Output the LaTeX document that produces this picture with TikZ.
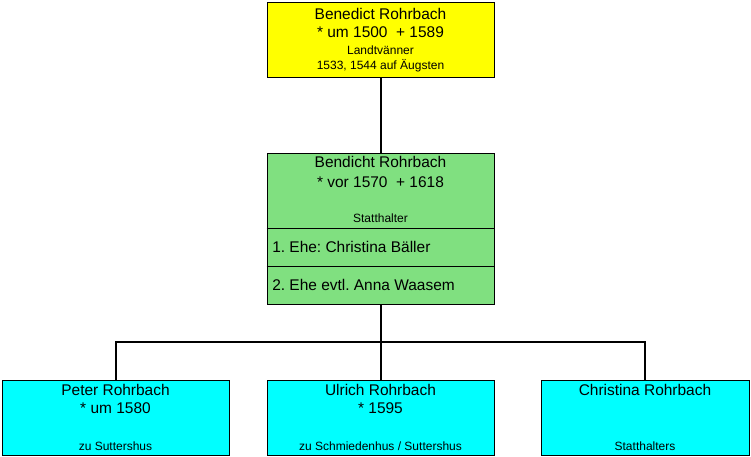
\documentclass[tikz,border=0pt]{standalone}
\usepackage{fontspec}
\setmainfont{Liberation Sans}
\definecolor{gelb}{RGB}{255,255,0}
\definecolor{gruen}{RGB}{128,224,128}
\definecolor{tuerkis}{RGB}{0,255,255}
\frenchspacing
\begin{document}
\begin{tikzpicture}[x=0.75pt,y=-0.75pt,
    box/.style={draw=black,line width=0.75pt,inner sep=0pt,minimum height=56.25pt},
    big/.style={inner sep=0pt,font=\fontsize{11.6}{13.5}\selectfont},
    small/.style={inner sep=0pt,font=\fontsize{9}{11}\selectfont},
    link/.style={line width=1.5pt}]
\useasboundingbox (0,0) rectangle (751,457);
% Kaesten
\node[box,fill=gelb,minimum width=170.25pt] (benedict) at (380.5,39.5) {};
\node[box,fill=gruen,minimum width=170.25pt,minimum height=113.25pt] (bendicht) at (380.5,228.5) {};
\node[box,fill=tuerkis,minimum width=170.25pt] (peter) at (115.5,417.5) {};
\node[box,fill=tuerkis,minimum width=170.25pt] (ulrich) at (380.5,417.5) {};
\node[box,fill=tuerkis,minimum width=156pt] (christina) at (645,417.5) {};
\draw[line width=0.75pt] (bendicht.west) -- (bendicht.east);
\draw[line width=0.75pt] ([yshift=-28.5pt]bendicht.west) -- ([yshift=-28.5pt]bendicht.east);
% Texte
\node[big] (benedictname) at (380.5,14) {Benedict Rohrbach};
\node[big] (benedictdata) at (380.5,32) {* um 1500 \ + 1589};
\node[small] (benedictamt) at (380.5,50) {Landtvänner};
\node[small] (benedictort) at (380.5,66) {1533, 1544 auf Äugsten};
\node[big] (bendichtname) at (380.5,162) {Bendicht Rohrbach};
\node[big] (bendichtdata) at (380.5,182) {* vor 1570 \ + 1618};
\node[small] (bendichtamt) at (380.5,218) {Statthalter};
\node[big,anchor=west] (ehe1) at (272,247) {1. Ehe: Christina Bäller};
\node[big,anchor=west] (ehe2) at (272,285) {2. Ehe evtl. Anna Waasem};
\node[big] (petername) at (115.5,390) {Peter Rohrbach};
\node[big] (peterdata) at (115.5,408) {* um 1580};
\node[small] (peterort) at (115.5,446) {zu Suttershus};
\node[big] (ulrichname) at (380.5,390) {Ulrich Rohrbach};
\node[big] (ulrichdata) at (380.5,408) {* 1595};
\node[small] (ulrichort) at (380.5,446) {zu Schmiedenhus / Suttershus};
\node[big] (christinaname) at (645,390) {Christina Rohrbach};
\node[small] (christinaamt) at (645,446) {Statthalters};
% Linien
\coordinate (gabel) at (380.5,342);
\draw[link] (benedict.south) -- (bendicht.north);
\draw[link] (bendicht.south) -- (ulrich.north);
\draw[link] (peter.north) |- (gabel) -| (christina.north);
\end{tikzpicture}
\end{document}
